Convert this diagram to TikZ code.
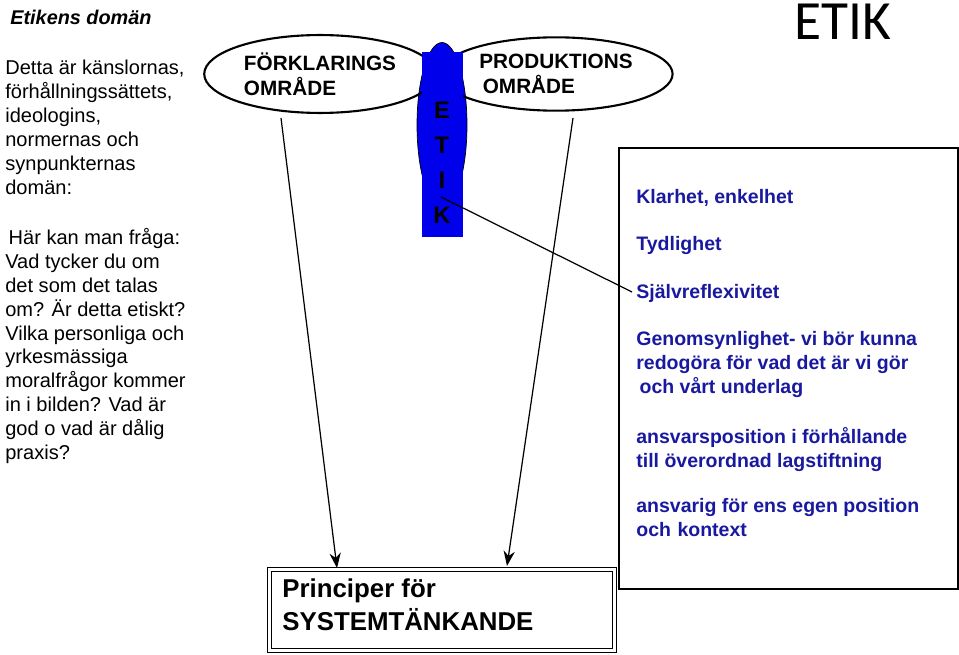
\documentclass[tikz,border=0pt]{standalone}
\usepackage{fontspec}
\setmainfont{Liberation Sans}
\newfontfamily\etikfont{Carlito}
\usetikzlibrary{shapes, arrows.meta, positioning, calc}
\definecolor{etikblue}{RGB}{0,0,235}
\definecolor{listblue}{RGB}{25,25,160}
\tikzstyle{plain} = [inner sep=0pt, anchor=west, align=left, font=\fontsize{11.4}{13.6}\selectfont]
\tikzstyle{area} = [ellipse, draw=black, line width=1.2pt, minimum width=4.26cm, minimum height=1.46cm, align=left, font=\bfseries\fontsize{11.8}{14.5}\selectfont]
\tikzstyle{item} = [inner sep=0pt, anchor=west, align=left, text=listblue, font=\bfseries\fontsize{11.1}{13.6}\selectfont]
\tikzstyle{letter} = [inner sep=0pt, font=\bfseries\fontsize{13.6}{14}\selectfont]

\begin{document}
\begin{tikzpicture}[x=0.02cm, y=-0.02cm]
\useasboundingbox (0,0) rectangle (959,655);
\node (title) [plain, font=\bfseries\itshape\fontsize{11.3}{14}\selectfont] at (10,17) {Etikens domän};
\node (etik) [inner sep=0pt, font=\etikfont\fontsize{31.5}{34}\selectfont] at (843,22) {ETIK};
\node (intro) [plain, anchor=north west] at (5,60) {Detta är känslornas,\\förhållningssättets,\\ideologins,\\normernas och\\synpunkternas\\domän:};
\node (fraga) [plain, anchor=north west] at (5,228) {\,Här kan man fråga:\\Vad tycker du om\\det som det talas\\om? Är detta etiskt?\\Vilka personliga och\\yrkesmässiga\\moralfrågor kommer\\in i bilden? Vad är\\god o vad är dålig\\praxis?};

\node (blob) [ellipse, draw=black, fill=etikblue, minimum width=1cm, minimum height=3.3cm] at (442,125) {};
\node (forklaring) [area] at (320,74) {FÖRKLARINGS\\OMRÅDE};
\node (produktion) [area] at (556,74) {PRODUKTIONS\\\,OMRÅDE};
\fill[etikblue] (422,52) rectangle (463,237);
\node (e) [letter] at (442,110) {E};
\node (t) [letter] at (442,145) {T};
\node (i) [letter] at (442,180) {I};
\node (k) [letter] at (442,215) {K};

\node (lista) [draw=black, line width=1.2pt, minimum width=6.78cm, minimum height=8.82cm, anchor=north west] at (618,147) {};
\node (klarhet) [item] at (636,198) {Klarhet, enkelhet};
\node (tydlighet) [item] at (636,245) {Tydlighet};
\node (reflex) [item] at (636,293) {Självreflexivitet};
\node (genom) [item, anchor=north west] at (636,331) {Genomsynlighet- vi bör kunna\\redogöra för vad det är vi gör\\\,och vårt underlag};
\node (ansvar) [item, anchor=north west] at (636,427) {ansvarsposition i förhållande\\till överordnad lagstiftning};
\node (position) [item, anchor=north west] at (636,498) {ansvarig för ens egen position\\och\,\,kontext};

\node (princip) [draw=black, double, double distance=1.5pt, line width=0.8pt, minimum width=6.9cm, minimum height=1.62cm, anchor=north west] at (269,569) {};
\node (principtext) [plain, anchor=north west, font=\bfseries\fontsize{14.7}{18.8}\selectfont] at (282,578) {Principer för\\SYSTEMTÄNKANDE};

\coordinate (kstart) at (441,197);
\coordinate (kend) at (632,292);
\draw[line width=0.7pt] (kstart) -- (kend);
\coordinate (fstart) at (281,118);
\coordinate (fend) at (337,568);
\coordinate (pstart) at (573,118);
\coordinate (pend) at (507,566);
\draw[-{Stealth[length=3mm]}, line width=0.7pt] (fstart) -- (fend);
\draw[-{Stealth[length=3mm]}, line width=0.7pt] (pstart) -- (pend);
\end{tikzpicture}
\end{document}
